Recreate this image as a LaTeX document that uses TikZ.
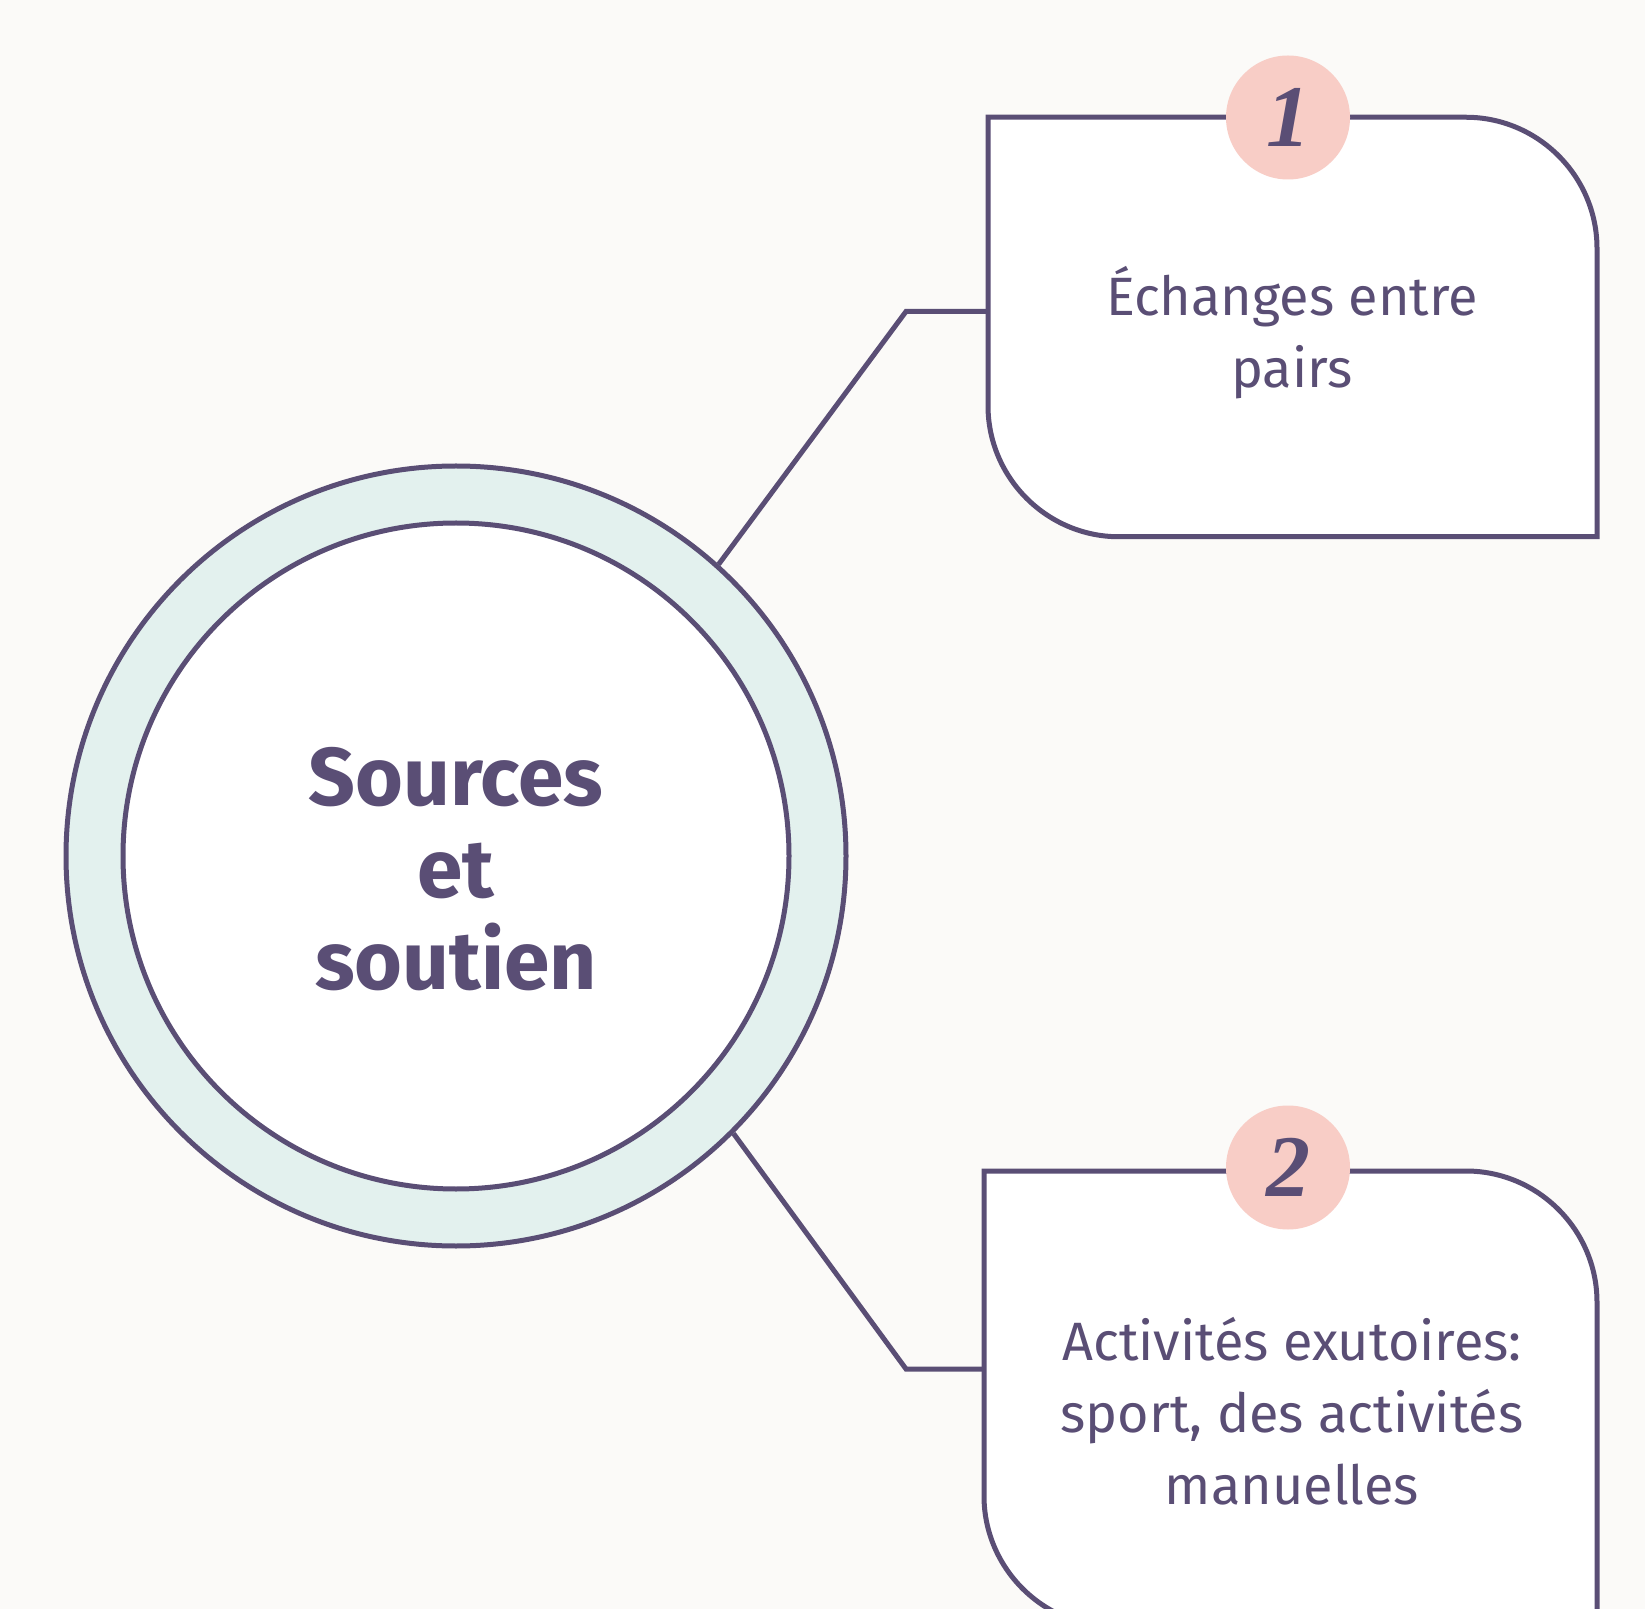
\documentclass[tikz,border=0pt]{standalone}
\usepackage{fontspec}
\setmainfont{Fira Sans}
\newfontfamily\numfont{Liberation Serif}
\usepackage{tikz}
\usetikzlibrary{positioning,calc}
\definecolor{ink}{HTML}{5A4E75}
\definecolor{paper}{HTML}{FBFAF8}
\definecolor{mint}{HTML}{E3F1EE}
\definecolor{blush}{HTML}{F8CDC6}
\tikzset{
  ring/.style    = {circle, draw=ink, line width=2.5pt, fill=mint,
                    minimum size=390pt, inner sep=0pt},
  core/.style    = {circle, draw=ink, line width=2.5pt, fill=white,
                    minimum size=333pt, inner sep=0pt},
  title/.style   = {align=center, text=ink,
                    font=\fontsize{41}{46}\selectfont\bfseries},
  boxarea/.style = {draw=none, inner sep=0pt, outer sep=0pt},
  card/.style    = {draw=ink, line width=2.5pt, fill=white},
  cardtext/.style = {align=center, text=ink,
                    font=\fontsize{27}{36}\selectfont},
  badge/.style   = {circle, fill=blush, minimum size=62pt, inner sep=0pt,
                    text=ink, font=\numfont\fontsize{44}{44}\selectfont\bfseries\itshape},
  link/.style    = {draw=ink, line width=2.5pt}
}
% card outline: round top right and bottom left corners only
\newcommand{\cardpath}[1]{%
  \filldraw[card] (#1.north west) -- ($(#1.north east)+(-131,0)$)
    .. controls ($(#1.north east)+(-59,0)$) and ($(#1.north east)+(0,59)$) .. ($(#1.north east)+(0,131)$)
    -- (#1.south east) -- ($(#1.south west)+(131,0)$)
    .. controls ($(#1.south west)+(59,0)$) and ($(#1.south west)+(0,-59)$) .. ($(#1.south west)+(0,-131)$)
    -- cycle;}
\begin{document}
\begin{tikzpicture}[x=0.5pt, y=-0.5pt]
  \fill[paper] (0,0) rectangle (1645,1609);
  \useasboundingbox (0,0) rectangle (1645,1609);

  % hub
  \node[ring] (ring) at (456,856) {};
  \node[core] (core) at (456,856) {};
  \node[title] (title) at (456,869.5) {Sources\\et\\soutien};

  % cards
  \node[boxarea, minimum width=304.5pt, minimum height=209.75pt] (box1) at (1292.5,327) {};
  \node[boxarea, minimum width=306.5pt, minimum height=228pt] (box2) at (1290.5,1399) {};

  \coordinate (j1) at (906,311.5);
  \coordinate (j2) at (906,1369);
  \draw[link] (ring.48) -- (j1) -- (box1.west |- j1);
  \draw[link] (ring.-45.4) -- (j2) -- (box2.west |- j2);

  \cardpath{box1}
  \cardpath{box2}

  \node[cardtext] (t1) at (1292,333) {Échanges entre\\pairs};
  \node[cardtext] (t2) at (1292,1411) {Activités exutoires:\\sport, des activités\\manuelles};

  \node[badge] (n1) at (1288,117.5) {1};
  \node[badge] (n2) at (1288,1167.5) {2};
\end{tikzpicture}
\end{document}
